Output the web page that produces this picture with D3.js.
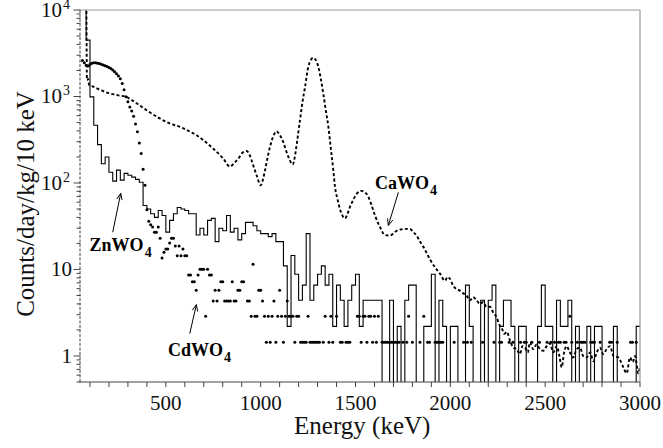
<!DOCTYPE html>
<html><head><meta charset="utf-8">
<script src="https://cdn.jsdelivr.net/npm/d3@7"></script>
<style>body{margin:0;background:#fff}</style>
</head><body><svg id="c" width="663" height="448" font-family="Liberation Serif"></svg>
<script>
// ---------- data ----------
const xTickLabels = [500, 1000, 1500, 2000, 2500, 3000];
const yDecades = [1, 10, 100, 1000, 10000];
const yDecadeLabels = [["1", ""], ["10", ""], ["10", "2"], ["10", "3"], ["10", "4"]];

// ZnWO4 histogram: [bin start (keV), counts/day/kg/10 keV], 20 keV bins
const znwo4 = [[60,15000],[80,4490],[100,990],[120,465],[140,278],[160,167],[180,200],[200,133],[220,105],[240,141],[260,108],[280,129],[300,123],[320,117],[340,110],[360,102],[380,55],[400,50],[420,44],[440,40],[460,48],[480,42],[500,27],[520,37],[540,44],[560,52],[580,50],[600,48],[620,44],[640,44],[660,25],[680,30],[700,25],[720,37],[740,39],[760,21],[780,30],[800,28],[820,42],[840,27],[860,30],[880,22],[900,26],[920,35],[940,35],[960,32],[980,28],[1000,26],[1020,26],[1040,24],[1060,26],[1080,21],[1100,21],[1120,11],[1140,2.2],[1160,14.5],[1180,8.8],[1200,4.4],[1220,6.6],[1240,26],[1260,4.4],[1280,6.6],[1300,8.8],[1320,11],[1340,6.6],[1360,8.8],[1380,2.2],[1400,6.6],[1420,4.4],[1440,2.2],[1460,4.4],[1480,6.6],[1500,8.8],[1520,2.2],[1540,4.4],[1560,4.4],[1580,4.4],[1600,4.4],[1620,4.4],[1640,0],[1660,0],[1680,4.4],[1700,0],[1720,2.2],[1740,0],[1760,4.4],[1780,6.6],[1800,6.6],[1820,0],[1840,0],[1860,2.2],[1880,2.2],[1900,8.8],[1920,0],[1940,4.4],[1960,2.2],[1980,0],[2000,2.2],[2020,2.2],[2040,0],[2060,0],[2080,6.6],[2100,2.2],[2120,0],[2140,0],[2160,4.4],[2180,0],[2200,4.4],[2220,6.6],[2240,0],[2260,2.2],[2280,4.4],[2300,4.4],[2320,2.2],[2340,0],[2360,2.2],[2380,2.2],[2400,0],[2420,0],[2440,0],[2460,2.2],[2480,6.6],[2500,2.2],[2520,2.2],[2540,0],[2560,4.4],[2580,2.2],[2600,2.2],[2620,4.4],[2640,0],[2660,2.2],[2680,0],[2700,0],[2720,2.2],[2740,0],[2760,2.2],[2780,2.2],[2800,0],[2820,0],[2840,0],[2860,2.2],[2880,0],[2900,0],[2920,0],[2940,0],[2960,0],[2980,2.2],[3000,2.2]];

// CdWO4 points (non-empty 10 keV bins)
const cdwo4 = [[60,2600],[70,2450],[80,2300],[90,2250],[100,2350],[110,2420],[120,2450],[130,2450],[140,2430],[150,2400],[160,2360],[170,2320],[180,2270],[190,2220],[200,2170],[210,2100],[220,2020],[230,1930],[240,1830],[250,1720],[260,1600],[270,1410],[280,1200],[290,990],[300,870],[310,758],[320,680],[330,590],[340,480],[350,390],[360,290],[370,219],[380,144],[390,94],[400,49],[410,36],[420,33],[430,31],[440,27],[450,27],[460,31],[470,23],[480,13.6],[490,15.8],[500,17.3],[510,17.3],[520,20.2],[530,23],[540,23],[550,18.7],[560,14.4],[570,18.7],[580,14.4],[590,17.3],[600,14.4],[610,14.4],[620,8.64],[630,8.64],[640,7.2],[650,7.2],[660,5.76],[670,8.64],[680,10.08],[690,10.08],[700,10.08],[710,2.88],[720,10.08],[730,8.64],[740,8.64],[750,4.32],[760,5.76],[770,4.32],[780,5.76],[790,7.2],[800,7.2],[810,4.32],[820,4.32],[830,4.32],[840,4.32],[850,7.2],[860,4.32],[870,4.32],[880,5.76],[890,5.76],[900,7.2],[910,7.2],[930,4.32],[940,4.32],[950,2.88],[960,11.52],[970,2.88],[980,2.88],[990,5.76],[1000,5.76],[1010,4.32],[1020,2.88],[1030,1.44],[1040,2.88],[1050,1.44],[1060,2.88],[1070,4.32],[1080,1.44],[1090,2.88],[1100,5.76],[1110,2.88],[1120,1.44],[1130,2.88],[1140,4.32],[1150,2.88],[1160,2.88],[1170,2.88],[1180,1.44],[1190,2.88],[1200,2.88],[1210,1.44],[1220,1.44],[1230,1.44],[1240,1.44],[1250,2.88],[1260,1.44],[1270,1.44],[1280,1.44],[1290,1.44],[1300,1.44],[1310,1.44],[1330,1.44],[1340,2.88],[1360,1.44],[1370,2.88],[1380,1.44],[1400,2.88],[1420,1.44],[1430,1.44],[1450,1.44],[1460,1.44],[1470,1.44],[1510,2.88],[1520,2.88],[1530,1.44],[1540,2.88],[1550,2.88],[1560,1.44],[1570,2.88],[1580,2.88],[1590,1.44],[1600,2.88],[1610,1.44],[1620,2.88],[1640,1.44],[1650,1.44],[1660,1.44],[1670,1.44],[1680,1.44],[1690,1.44],[1700,1.44],[1710,1.44],[1720,1.44],[1730,1.44],[1750,1.44],[1770,1.44],[1780,2.88],[1800,1.44],[1840,1.44],[1860,2.88],[1880,1.44],[1890,1.44],[1920,1.44],[1930,1.44],[1940,1.44],[1950,1.44],[1960,1.44],[2020,1.44],[2070,1.44],[2090,1.44],[2110,1.44],[2170,1.44],[2230,1.44],[2260,1.44],[2270,1.44],[2310,1.44],[2330,1.44],[2370,1.44],[2390,1.44],[2400,1.44],[2430,1.44],[2470,1.44],[2510,1.44],[2530,1.44],[2550,1.44],[2570,1.44],[2580,1.44],[2600,1.44],[2610,1.44],[2630,2.88],[2640,1.44],[2670,1.44],[2690,1.44],[2700,1.44],[2710,1.44],[2740,1.44],[2750,1.44],[2760,1.44],[2790,1.44],[2840,1.44],[2850,1.44],[2880,1.44],[2950,1.44],[2960,1.44],[2980,1.44]];

// CaWO4 spectrum (dotted curve)
const cawo4 = [[55,15000],[80,15000],[84,1550],[90,1600],[96,1350],[110,1320],[150,1200],[205,1085],[250,1030],[290,990],[340,850],[400,690],[460,570],[520,488],[575,445],[620,400],[662,356],[700,310],[750,249],[800,195],[838,155],[860,170],[882,191],[905,225],[926,234],[940,215],[952,183],[965,150],[979,122],[1000,94],[1012,110],[1023,140],[1035,190],[1049,261],[1065,340],[1084,396],[1100,360],[1119,298],[1133,240],[1146,200],[1169,164],[1180,200],[1190,280],[1207,531],[1220,850],[1234,1292],[1251,2203],[1265,2650],[1277,2800],[1290,2650],[1304,2203],[1317,1600],[1330,1084],[1343,700],[1357,445],[1370,250],[1383,140],[1392,90],[1405,65],[1418,50],[1445,39],[1458,44],[1471,53],[1490,65],[1506,75],[1532,81],[1550,78],[1568,69],[1585,55],[1603,42],[1629,31],[1655,25],[1682,24.7],[1700,26],[1717,28],[1740,29],[1761,29.5],[1787,29.5],[1805,27],[1822,24.7],[1840,21],[1857,18.4],[1875,15.5],[1893,13],[1919,10.6],[1946,8.9],[1972,7.4],[1985,8.2],[1998,7.8],[2015,6.5],[2033,5.9],[2050,5.7],[2068,5.3],[2085,5.0],[2104,4.4],[2120,4.8],[2139,4.4],[2155,4.0],[2174,4.2],[2190,3.7],[2209,3.7],[2225,3.2],[2244,2.8],[2258,2.3],[2271,2.1],[2285,1.8],[2297,1.9],[2315,1.5],[2332,1.25],[2350,1.2],[2367,1.05],[2380,1.3],[2394,1.25],[2408,1.1],[2420,1.44],[2437,1.2],[2455,1.36],[2472,1.2],[2490,1.15],[2508,1.3],[2525,1.4],[2543,1.1],[2561,1.3],[2575,1.0],[2587,0.74],[2600,1.1],[2613,1.3],[2630,1.1],[2648,0.96],[2666,1.2],[2684,1.25],[2700,1.0],[2719,0.96],[2737,1.1],[2754,0.87],[2772,1.1],[2789,1.25],[2806,1.05],[2824,1.2],[2842,1.3],[2860,1.0],[2886,0.96],[2900,0.85],[2912,0.74],[2930,0.63],[2947,0.96],[2962,0.85],[2974,1.0],[2991,0.63],[3000,0.75]];

// annotations: label, text anchor (keV, value), arrow from, arrow to
const labels = [
  {name: "ZnWO", sub: "4", at: [98, 16.5], from: [220, 27], to: [262, 76]},
  {name: "CdWO", sub: "4", at: [511, 1.0], from: [626, 1.81], to: [661, 3.92]},
  {name: "CaWO", sub: "4", at: [1603, 86], from: [1726, 78], to: [1673, 32.3]}
];

// ---------- chart ----------
const FONT = '"Liberation Serif"';
const L = 80.5, R = 640, T = 10, B = 382;
const x = d3.scaleLinear().domain([50, 3000]).range([L, R]);
const y = d3.scaleLog().domain([0.5, 10000]).range([B, T]);
const yv = v => v > 0 ? y(v) : B + 3;

const svg = d3.select("#c");
svg.append("defs").append("clipPath").attr("id", "plotclip")
  .append("rect").attr("x", L).attr("y", T).attr("width", R - L).attr("height", B - T);

const plot = svg.append("g").attr("clip-path", "url(#plotclip)");

// ZnWO4 step histogram
plot.append("path").datum(znwo4)
  .attr("fill", "none").attr("stroke", "#000").attr("stroke-width", 1.1)
  .attr("d", d3.line().curve(d3.curveStepAfter).x(d => x(d[0])).y(d => yv(d[1])));

// CaWO4 dotted curve
plot.append("path").datum(cawo4)
  .attr("fill", "none").attr("stroke", "#000").attr("stroke-width", 1.9)
  .attr("stroke-dasharray", "3,2.3")
  .attr("d", d3.line().curve(d3.curveMonotoneX).x(d => x(d[0])).y(d => y(d[1])));

// CdWO4 dots
plot.selectAll("circle.cd").data(cdwo4).join("circle").attr("class", "cd")
  .attr("cx", d => x(d[0])).attr("cy", d => y(d[1])).attr("r", 1.5).attr("fill", "#000");

// frame
svg.append("line").attr("x1", L).attr("x2", R).attr("y1", T).attr("y2", T).attr("stroke", "#999").attr("stroke-width", 1.2);
svg.append("line").attr("x1", R).attr("x2", R).attr("y1", T).attr("y2", B).attr("stroke", "#999").attr("stroke-width", 1.2);
svg.append("line").attr("x1", L - 0.5).attr("x2", L - 0.5).attr("y1", T).attr("y2", B)
  .attr("stroke", "#444").attr("stroke-width", 1).attr("stroke-dasharray", "3,1.5");

// bottom axis
const xMinor = d3.range(100, 3001, 100);
const gx = svg.append("g");
gx.append("line").attr("x1", L - 1).attr("x2", R).attr("y1", B).attr("y2", B).attr("stroke", "#444").attr("stroke-width", 1.2);
gx.selectAll("line.t").data(xMinor).join("line").attr("class", "t")
  .attr("x1", d => x(d)).attr("x2", d => x(d)).attr("y1", B).attr("y2", B + 5)
  .attr("stroke", "#444").attr("stroke-width", 1);
gx.selectAll("text").data(xTickLabels).join("text")
  .style("font-family", FONT)
  .attr("x", d => x(d)).attr("y", 410).attr("text-anchor", "middle")
  .attr("font-size", 21).attr("fill", "#111").text(d => d);

// left axis
const yMinor = [];
[0.1, 1, 10, 100, 1000].forEach(dec => { for (let k = 1; k <= 9; k++) { const v = dec * k; if (v >= 0.5 && v <= 10000) yMinor.push(v); } });
yMinor.push(10000);
const gy = svg.append("g");
gy.selectAll("line.t").data(yMinor).join("line").attr("class", "t")
  .attr("x1", d => L - (yDecades.includes(d) ? 7 : 4)).attr("x2", L)
  .attr("y1", d => y(d)).attr("y2", d => y(d)).attr("stroke", "#444").attr("stroke-width", 1);
yDecades.forEach((d, i) => {
  const [base, sup] = yDecadeLabels[i];
  const t = gy.append("text").style("font-family", FONT)
    .attr("x", sup ? 70 : 72).attr("y", y(d) + 7).attr("text-anchor", "end")
    .attr("font-size", 21).attr("fill", "#111");
  t.append("tspan").text(base);
  if (sup) t.append("tspan").attr("font-size", 14).attr("dy", -8).attr("dx", 1).text(sup);
});

// axis titles
svg.append("text").style("font-family", FONT)
  .attr("x", (L + R) / 2 + 2).attr("y", 434).attr("text-anchor", "middle")
  .attr("font-size", 25).attr("fill", "#111").text("Energy (keV)");
svg.append("text").style("font-family", FONT)
  .attr("transform", `translate(34,${(T + B) / 2 + 8}) rotate(-90)`).attr("text-anchor", "middle")
  .attr("font-size", 25).attr("fill", "#111").text("Counts/day/kg/10 keV");

// annotations
labels.forEach(a => {
  const t = svg.append("text").style("font-family", FONT)
    .attr("x", x(a.at[0])).attr("y", y(a.at[1]))
    .attr("font-weight", "bold").attr("font-size", 18).attr("fill", "#000");
  t.append("tspan").text(a.name);
  t.append("tspan").attr("font-size", 14).attr("dy", 6).attr("dx", 1).text(a.sub);
  const x1 = x(a.from[0]), y1 = y(a.from[1]), x2 = x(a.to[0]), y2 = y(a.to[1]);
  svg.append("line").attr("x1", x1).attr("y1", y1).attr("x2", x2).attr("y2", y2).attr("stroke", "#000").attr("stroke-width", 1);
  const ang = Math.atan2(y1 - y2, x1 - x2), len = 7, spread = 0.4;
  svg.append("path").attr("fill", "none").attr("stroke", "#000").attr("stroke-width", 1)
    .attr("d", `M${x2 + len * Math.cos(ang - spread)},${y2 + len * Math.sin(ang - spread)}L${x2},${y2}L${x2 + len * Math.cos(ang + spread)},${y2 + len * Math.sin(ang + spread)}`);
});
</script></body></html>
